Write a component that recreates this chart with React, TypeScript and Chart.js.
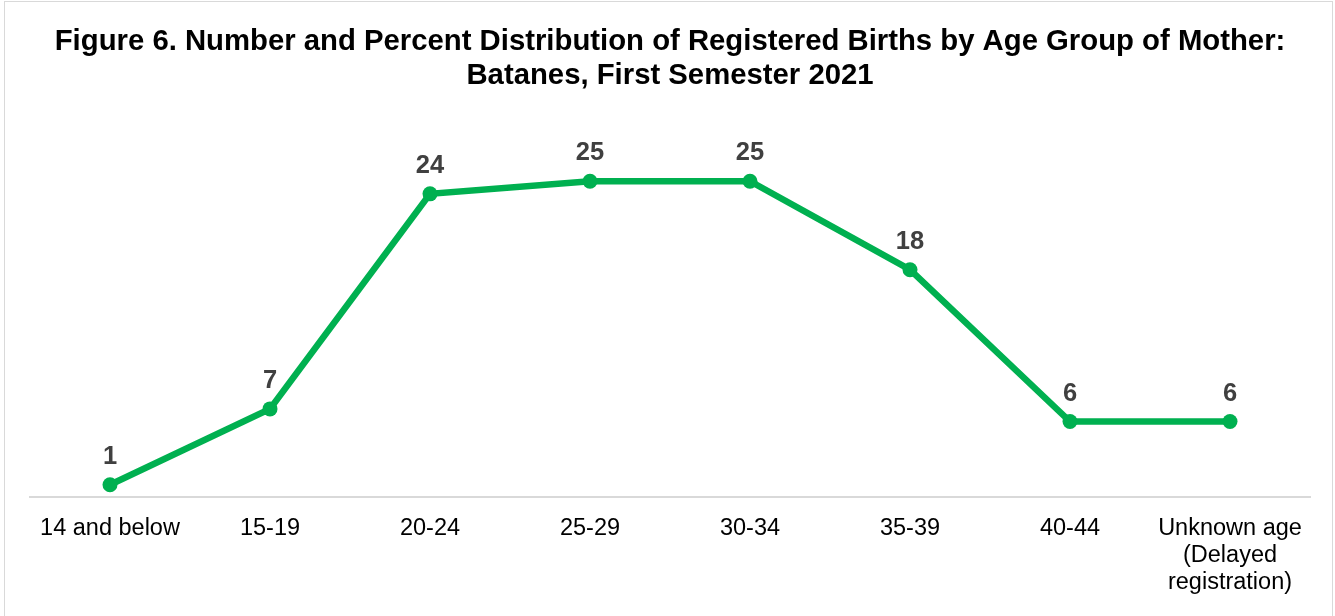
import React, { useEffect, useRef } from "react";
import { Chart, registerables } from "chart.js";

Chart.register(...registerables);

const categories: (string | string[])[] = [
  "14 and below",
  "15-19",
  "20-24",
  "25-29",
  "30-34",
  "35-39",
  "40-44",
  ["Unknown age", "(Delayed", "registration)"],
];
const births: number[] = [1, 7, 24, 25, 25, 18, 6, 6];
const titleLines: string[] = [
  "Figure 6. Number and Percent Distribution of Registered Births by Age Group of Mother:",
  "Batanes, First Semester 2021",
];

const FONT = "'Liberation Sans', Arial, sans-serif";

const dataLabelPlugin = {
  id: "dataLabels",
  afterDatasetsDraw(chart: any) {
    const ctx = chart.ctx;
    const meta = chart.getDatasetMeta(0);
    const values = chart.data.datasets[0].data as number[];
    ctx.save();
    ctx.font = `bold 25.5px ${FONT}`;
    ctx.fillStyle = "#404040";
    ctx.textAlign = "center";
    ctx.textBaseline = "alphabetic";
    meta.data.forEach((pt: any, i: number) => {
      ctx.fillText(String(values[i]), pt.x, pt.y - 21);
    });
    ctx.restore();
  },
};

export default function App() {
  const canvasRef = useRef<HTMLCanvasElement | null>(null);

  useEffect(() => {
    if (!canvasRef.current) return;
    const chart = new Chart(canvasRef.current, {
      type: "line",
      data: {
        labels: categories,
        datasets: [
          {
            data: births,
            borderColor: "#00B050",
            backgroundColor: "#00B050",
            borderWidth: 6.5,
            pointRadius: 7.5,
            pointHoverRadius: 7.5,
            pointBackgroundColor: "#00B050",
            pointBorderWidth: 0,
            tension: 0,
            fill: false,
          },
        ],
      },
      options: {
        animation: false,
        responsive: true,
        maintainAspectRatio: false,
        layout: { padding: { left: 30, right: 25, top: 0, bottom: 1.5 } },
        plugins: {
          legend: { display: false },
          tooltip: { enabled: false },
          title: {
            display: true,
            text: titleLines,
            color: "#000000",
            font: { family: FONT, size: 29.3, weight: "bold", lineHeight: 1.16 },
            padding: { top: 24.5, bottom: 25.5 },
          },
        },
        scales: {
          x: {
            offset: true,
            grid: { display: false, drawTicks: false },
            border: { display: true, color: "#d9d9d9", width: 2 },
            ticks: {
              color: "#000000",
              font: { family: FONT, size: 23.5, lineHeight: 1.15 },
              padding: 18,
              maxRotation: 0,
              autoSkip: false,
            },
          },
          y: {
            display: false,
            min: 0,
            max: 30,
          },
        },
      },
      plugins: [dataLabelPlugin],
    });
    return () => chart.destroy();
  }, []);

  return (
    <div style={{ position: "absolute", left: 0, top: 0, width: 1335, height: 616, background: "#fff", overflow: "hidden" }}>
      <div
        style={{
          position: "absolute",
          left: 4,
          top: 1,
          width: 1329,
          height: 640,
          border: "1.5px solid #d9d9d9",
          boxSizing: "border-box",
        }}
      />
      <canvas ref={canvasRef} style={{ position: "absolute", left: 0, top: 0, width: 1335, height: 616 }} />
    </div>
  );
}
